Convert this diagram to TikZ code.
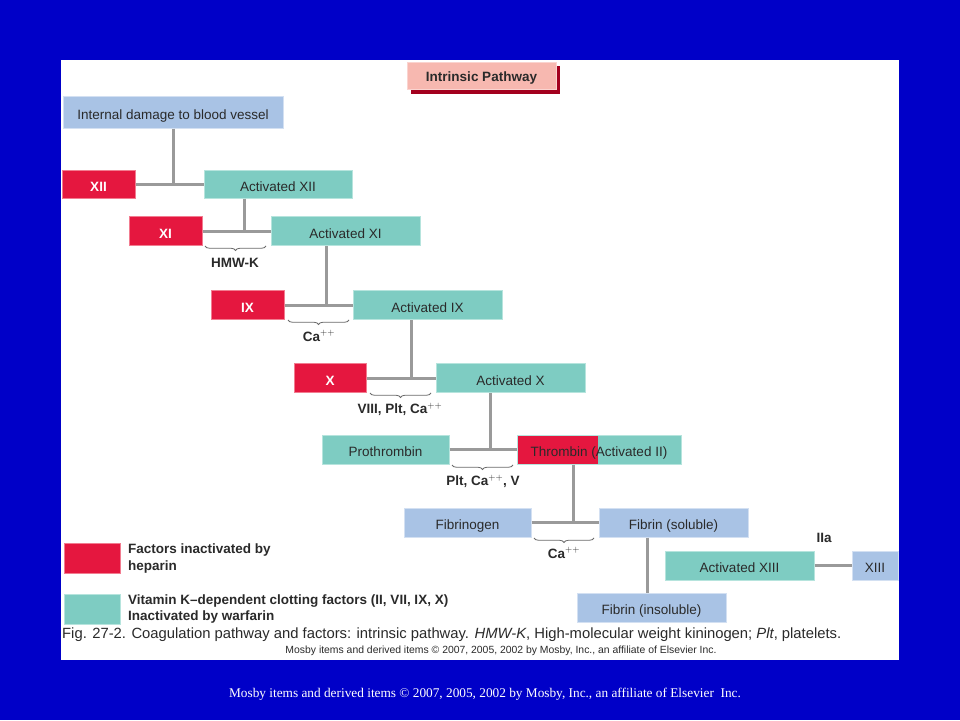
\documentclass[tikz,border=0pt]{standalone}
\usepackage{fontspec}
\setmainfont{Liberation Sans}
\newfontfamily\serifbot{Liberation Serif}
\usetikzlibrary{decorations.pathreplacing}
\definecolor{bgblue}{HTML}{0000C8}
\definecolor{hred}{HTML}{E5173F}
\definecolor{hredline}{HTML}{F27C90}
\definecolor{teal}{HTML}{7ECCC2}
\definecolor{tealline}{HTML}{B6E4DD}
\definecolor{lblue}{HTML}{A9C3E5}
\definecolor{lblueline}{HTML}{D3E0F2}
\definecolor{pinkbox}{HTML}{F7B8B0}
\definecolor{shadowred}{HTML}{A3001E}
\definecolor{conngray}{HTML}{9A9A9A}
\definecolor{txt}{HTML}{2A2A2A}
\begin{document}
\begin{tikzpicture}[x=1pt,y=-1pt,
  box/.style={rectangle, inner sep=0pt, font=\fontsize{13.5}{15}\selectfont, text=txt, text height=14.5pt, text depth=0pt},
  redbox/.style={box, fill=hred, draw=hredline, line width=1pt, text=white, font=\fontsize{13.5}{15}\selectfont\bfseries},
  tealbox/.style={box, fill=teal, draw=tealline, line width=1pt},
  bluebox/.style={box, fill=lblue, draw=lblueline, line width=1pt},
  conn/.style={draw=conngray, line width=3pt},
  brc/.style={draw=txt!70, line width=0.8pt, decorate, decoration={brace, mirror, amplitude=4.5pt}},
  lbl/.style={text=txt, font=\fontsize{13.5}{15}\selectfont\bfseries, inner sep=0pt},
  leg/.style={text=txt, font=\fontsize{13.5}{16.5}\selectfont\bfseries, inner sep=0pt, anchor=west, align=left}
]
\useasboundingbox (0,0) rectangle (960,720);
\fill[bgblue] (0,0) rectangle (960,720);
\fill[white] (61,60) rectangle (899,660);

% title
\fill[shadowred] (411,66) rectangle (560,94);
\node[box, fill=pinkbox, draw=pinkbox!60!white, line width=1pt, minimum width=149pt, minimum height=27pt, text height=12pt, font=\fontsize{13.5}{15}\selectfont\bfseries] (title) at (481.5,75.5) {Intrinsic Pathway};

% nodes
\node[bluebox, minimum width=220pt, minimum height=32pt] (dmg) at (173,112) {Internal damage to blood vessel};
\node[redbox, minimum width=73pt, minimum height=28pt] (xii) at (98.5,184) {XII};
\node[tealbox, minimum width=148pt, minimum height=28pt] (axii) at (278,184) {Activated XII};
\node[redbox, minimum width=73pt, minimum height=29pt] (xi) at (165.5,231) {XI};
\node[tealbox, minimum width=149pt, minimum height=29pt] (axi) at (345.5,231) {Activated XI};
\node[redbox, minimum width=73pt, minimum height=29pt] (ix) at (247.5,305) {IX};
\node[tealbox, minimum width=149pt, minimum height=29pt] (aix) at (427.5,305) {Activated IX};
\node[redbox, minimum width=72pt, minimum height=29pt] (x) at (330,378) {X};
\node[tealbox, minimum width=149pt, minimum height=29pt] (ax) at (510.5,378) {Activated X};
\node[tealbox, minimum width=127pt, minimum height=29pt] (pro) at (385.5,449.5) {Prothrombin};
\node[tealbox, minimum width=164pt, minimum height=29pt,
  path picture={\fill[hred] (path picture bounding box.north west) rectangle ([xshift=81pt]path picture bounding box.south west);}] (thr) at (599,449.5) {Thrombin (Activated II)};
\node[bluebox, minimum width=127pt, minimum height=29pt] (fgn) at (467.5,522.5) {Fibrinogen};
\node[bluebox, minimum width=149pt, minimum height=29pt] (fsol) at (673.5,522.5) {Fibrin (soluble)};
\node[tealbox, minimum width=149pt, minimum height=29pt] (axiii) at (739.5,565.5) {Activated XIII};
\node[bluebox, minimum width=46pt, minimum height=29pt] (xiii) at (875,565.5) {XIII};
\node[bluebox, minimum width=149pt, minimum height=29pt] (fins) at (651.5,607.5) {Fibrin (insoluble)};

% connectors
\coordinate (j1) at (dmg.south |- xii.east);
\draw[conn] (dmg.south) -- (j1);
\draw[conn] (xii.east) -- (axii.west);
\coordinate (j2) at ([xshift=-34pt]axii.south |- xi.east);
\draw[conn] ([xshift=-34pt]axii.south) -- (j2);
\draw[conn] (xi.east) -- (axi.west);
\coordinate (j3) at ([xshift=-19.5pt]axi.south |- ix.east);
\draw[conn] ([xshift=-19.5pt]axi.south) -- (j3);
\draw[conn] (ix.east) -- (aix.west);
\coordinate (j4) at ([xshift=-16.5pt]aix.south |- x.east);
\draw[conn] ([xshift=-16.5pt]aix.south) -- (j4);
\draw[conn] (x.east) -- (ax.west);
\coordinate (j5) at ([xshift=-20.5pt]ax.south |- pro.east);
\draw[conn] ([xshift=-20.5pt]ax.south) -- (j5);
\draw[conn] (pro.east) -- (thr.west);
\coordinate (j6) at ([xshift=-26pt]thr.south |- fgn.east);
\draw[conn] ([xshift=-26pt]thr.south) -- (j6);
\draw[conn] (fgn.east) -- (fsol.west);
\coordinate (j7) at ([xshift=-26.5pt]fsol.south |- fins.north);
\draw[conn] ([xshift=-26.5pt]fsol.south) -- (j7);
\draw[conn] (axiii.east) -- (xiii.west);

% braces and labels
\draw[brc] (205,246) -- (266,246);
\node[lbl] (l1) at (235,263) {HMW-K};
\draw[brc] (288,320) -- (349,320);
\node[lbl] (l2) at (319,336) {Ca$^{++}$};
\draw[brc] (370,393) -- (431,393);
\node[lbl] (l3) at (400,409) {VIII, Plt, Ca$^{++}$};
\draw[brc] (452,465) -- (513,465);
\node[lbl] (l4) at (483,481) {Plt, Ca$^{++}$, V};
\draw[brc] (534,538) -- (594,538);
\node[lbl] (l5) at (564,553) {Ca$^{++}$};
\node[lbl] (l6) at (824,538) {IIa};

% legend
\node[box, fill=hred, draw=hredline, line width=1pt, minimum width=56pt, minimum height=30pt] (legr) at (92,558) {};
\node[leg] (legrt) at (128,558.5) {Factors inactivated by\\heparin};
\node[box, fill=teal, draw=tealline, line width=1pt, minimum width=56pt, minimum height=30pt] (legt) at (92,609) {};
\node[leg] (legtt) at (128,609) {Vitamin K–dependent clotting factors (II, VII, IX, X)\\Inactivated by warfarin};

% caption
\node[inner sep=0pt, anchor=west, text=txt, font=\fontsize{14.8}{16}\selectfont] (cap) at (62,635) {Fig. 27-2. Coagulation pathway and factors: intrinsic pathway. \textit{HMW-K}, High-molecular weight kininogen; \textit{Plt}, platelets.};
\node[inner sep=0pt, text=txt, font=\fontsize{10.4}{12}\selectfont] (copy1) at (501,651) {Mosby items and derived items © 2007, 2005, 2002 by Mosby, Inc., an affiliate of Elsevier Inc.};
\node[inner sep=0pt, text=white, font=\serifbot\fontsize{13.3}{15}\selectfont] (copy2) at (485,694) {Mosby items and derived items © 2007, 2005, 2002 by Mosby, Inc., an affiliate of Elsevier\ \ Inc.};
\end{tikzpicture}
\end{document}
